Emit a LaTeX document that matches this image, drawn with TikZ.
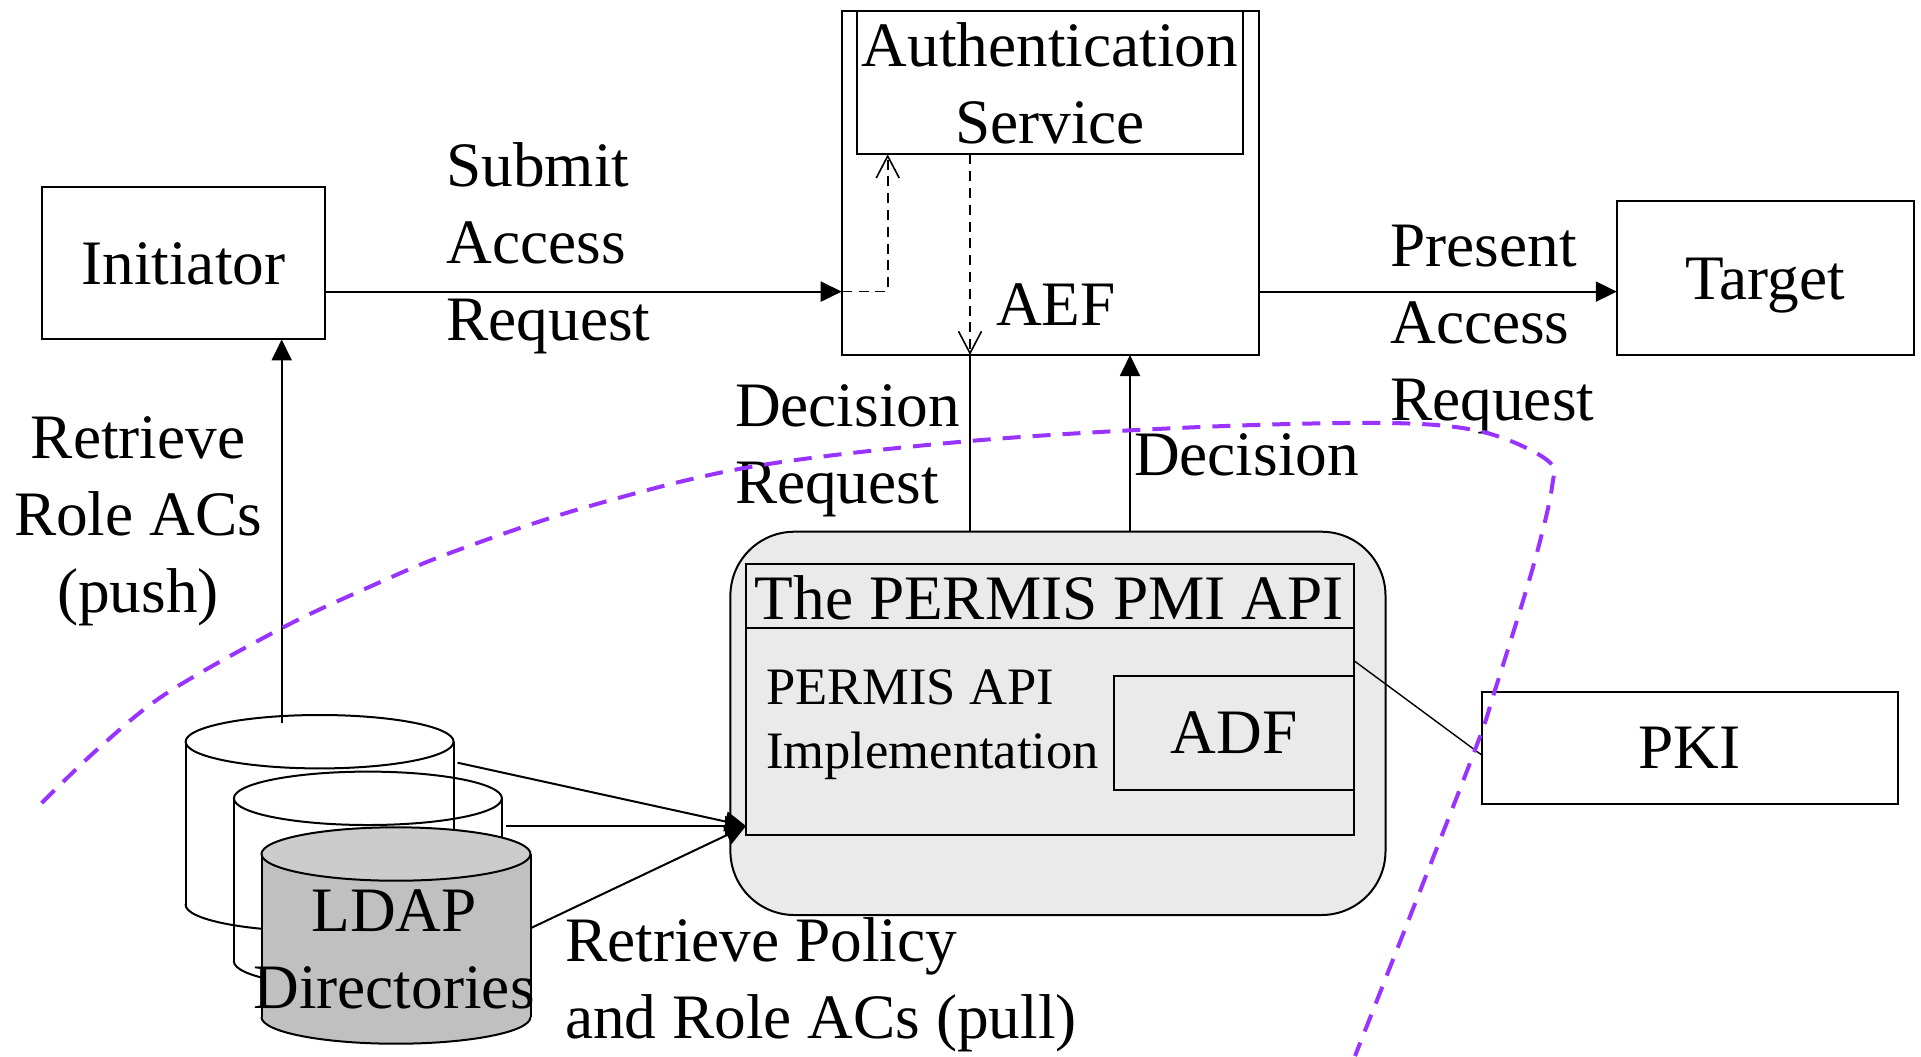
\documentclass[tikz,border=0pt]{standalone}
\usepackage{fontspec}
\setmainfont{Liberation Serif}
\usetikzlibrary{arrows.meta}
\definecolor{pmigray}{HTML}{EAEAEA}
\definecolor{cylgray}{HTML}{C0C0C0}
\definecolor{cyltop}{HTML}{CCCCCC}
\definecolor{trustpurple}{HTML}{9933FF}
\newcommand{\Lft}[1]{\vtop{\halign{##\hfil\cr#1\crcr}}}
\newcommand{\Ctr}[1]{\vtop{\halign{\hfil##\hfil\cr#1\crcr}}}
% cx, top cy, bottom cy, rx, ry, body fill, top fill
\newcommand{\DrawCyl}[7]{%
  \path[fill=#6] (#1-#4,#2) rectangle (#1+#4,#3);
  \path[fill=#6] (#1,#3) ellipse[x radius=#4, y radius=#5];
  \draw[cylline] (#1-#4,#2) -- (#1-#4,#3);
  \draw[cylline] (#1+#4,#2) -- (#1+#4,#3);
  \begin{scope}
    \clip (#1-#4-5,#3) rectangle (#1+#4+5,#3+#5+5);
    \draw[cylline] (#1,#3) ellipse[x radius=#4, y radius=#5];
  \end{scope}
  \path[draw, cylline, fill=#7] (#1,#2) ellipse[x radius=#4, y radius=#5];
}
\begin{document}
\begin{tikzpicture}[x=0.5pt, y=-0.5pt,
  every node/.style={font=\fontsize{31.65pt}{38.5pt}\selectfont, inner sep=0pt, outer sep=0pt},
  box/.style={draw, line width=1pt, rectangle, text height=20.95pt, text depth=0pt},
  conn/.style={line width=1pt, black},
  thinconn/.style={line width=0.7pt, black},
  cylline/.style={line width=1pt, black},
  arr/.style={-{Triangle[length=10.5pt, width=10pt]}},
  oarr/.style={-{Straight Barb[length=11pt, width=11.5pt, line width=0.8pt]}},
  dsh/.style={line width=0.8pt, black, dash pattern=on 5pt off 3.4pt},
  trust/.style={line width=2pt, trustpurple, dash pattern=on 9pt off 6pt},
  txt/.style={anchor=base west},
  ctxt/.style={anchor=base}
]
\useasboundingbox (0,0) rectangle (1921,1056);
\fill[white] (0,0) rectangle (1921,1056);

% boxes
\node[box, minimum width=141.65pt, minimum height=76.35pt] (init) at (183.35,263.05) {Initiator};
\node[box, minimum width=208.65pt, minimum height=172.15pt] (aef) at (1050.35,182.85) {};
\node[box, minimum width=192.7pt, minimum height=71.8pt] (auth) at (1050,82.5) {};
\node[box, minimum width=148.55pt, minimum height=77.05pt] (target) at (1765.35,278.25) {Target};
\node[box, minimum width=208pt, minimum height=56.15pt] (pki) at (1689.7,747.85) {PKI};
\node[draw, line width=1pt, fill=pmigray, rounded corners=32pt, minimum width=327.55pt, minimum height=191.65pt] (pmi) at (1057.95,723.35) {};
\node[box, fill=pmigray, minimum width=304pt, minimum height=135.5pt] (api) at (1050,699.5) {};
\node[box, minimum width=120.1pt, minimum height=57.15pt] (adf) at (1233.9,732.85) {ADF};
\draw[conn] (api.west |- 0,627.7) -- (api.east |- 0,627.7);

% cylinders
\DrawCyl{319.6}{741.7}{904.7}{134}{26.7}{none}{none}
\DrawCyl{367.9}{798.3}{961.3}{134}{26.7}{none}{none}
\DrawCyl{396}{854}{1017}{134.5}{26.7}{cylgray}{cyltop}

% connectors
\coordinate (req) at (0,291.6);
\draw[conn, arr] (init.east |- req) -- (aef.west |- req);
\coordinate (authin) at (887.7,291.6);
\draw[dsh, oarr] (aef.west |- req) -- (authin) -- (authin |- auth.south);
\coordinate (authout) at (970,0);
\draw[dsh, oarr] (authout |- auth.south) -- (authout |- aef.south);
\draw[conn] (authout |- pmi.north) -- (authout |- aef.south);
\coordinate (decx) at (1130,0);
\draw[conn, arr] (decx |- pmi.north) -- (decx |- aef.south);
\draw[conn, arr] (aef.east |- req) -- (target.west |- req);

\coordinate (cylpush) at (281.7,723.3);
\draw[conn, arr] (cylpush) -- (cylpush |- init.south);
\coordinate (apiin) at (746,826);
\coordinate (cyla) at (457.6,762.7);
\coordinate (cylb) at (505.9,826);
\coordinate (cylc) at (530.4,928.3);
\draw[conn, arr] (cyla) -- (api.west |- apiin);
\draw[conn, arr] (cylb) -- (api.west |- apiin);
\draw[conn, arr] (cylc) -- (api.west |- apiin);
\draw[thinconn] (api.east |- 0,660.7) -- (pki.west |- 0,755);

% texts
\node[ctxt] (authtxt) at (1050,66.7) {\Ctr{Authentication\cr Service}};
\node[ctxt] (aeftxt) at (1055.8,325) {AEF};
\node[txt] (sar) at (446.4,186) {\Lft{Submit\cr Access\cr Request}};
\node[txt] (par) at (1390.3,266.5) {\Lft{Present\cr Access\cr Request}};
\node[txt] (drq) at (735,426.7) {\Lft{Decision\cr Request}};
\node[txt] (dec) at (1134,475) {Decision};
\node[ctxt] (rra) at (138,458.3) {\Ctr{Retrieve\cr Role ACs\cr (push)}};
\node[txt] (rpp) at (565.2,961.7) {\Lft{Retrieve Policy\cr and Role ACs (pull)}};
\node[ctxt] (ldap) at (394,931.7) {\Ctr{LDAP\cr Directories}};
\node[ctxt] (apititle) at (1049.3,619) {The PERMIS PMI API};
\node[txt, font=\fontsize{26.3pt}{32.15pt}\selectfont] (impl) at (766,704) {\Lft{PERMIS API\cr Implementation}};

% trust boundary
\draw[trust] plot[smooth, tension=0.55] coordinates {(41.7,803) (100,747) (167,693) (282,628) (367,588) (450,553) (583,508) (750,467) (970,441) (1200,427) (1390,423) (1483,432) (1547,460) (1552,487) (1533,567) (1495,690) (1470,763) (1355,1056)};
\end{tikzpicture}
\end{document}
